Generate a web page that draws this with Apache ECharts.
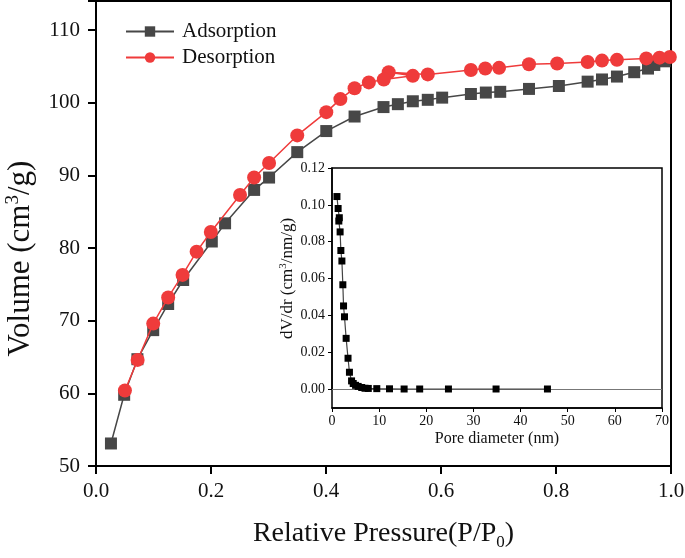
<!DOCTYPE html>
<html>
<head>
<meta charset="utf-8">
<script src="https://cdn.jsdelivr.net/npm/echarts@6/dist/echarts.min.js"></script>
<style>html,body{margin:0;padding:0;background:#fff}#c{width:685px;height:558px}</style>
</head>
<body>
<div id="c"></div>
<script>
// Adsorption branch (relative pressure P/P0, volume cm3/g)
const adsP = [0.026,0.049,0.072,0.0995,0.1255,0.1516,0.2014,0.2245,0.275,0.301,0.350,0.4005,0.4497,0.500,0.525,0.551,0.577,0.602,0.652,0.678,0.703,0.753,0.805,0.855,0.880,0.906,0.936,0.960,0.971,0.989];
const adsV = [53.1,59.8,64.7,68.7,72.3,75.6,80.9,83.4,88.0,89.7,93.2,96.1,98.1,99.4,99.8,100.2,100.4,100.7,101.2,101.4,101.5,101.9,102.3,102.9,103.2,103.6,104.2,104.7,105.2,105.7];
// Desorption branch (in drawn order)
const desP = [0.998,0.980,0.957,0.906,0.880,0.855,0.802,0.753,0.701,0.677,0.652,0.577,0.509,0.551,0.5005,0.4745,0.4497,0.425,0.4005,0.350,0.301,0.275,0.2505,0.1997,0.175,0.1505,0.1255,0.0995,0.0724,0.0503];
const desV = [106.3,106.2,106.1,105.9,105.8,105.6,105.4,105.3,104.8,104.7,104.5,103.9,104.2,103.7,103.2,102.8,102.0,100.5,98.7,95.5,91.7,89.7,87.3,82.2,79.5,76.3,73.2,69.6,64.6,60.4];
// Pore size distribution (inset)
const poreD = [1.05,1.3,1.55,1.45,1.72,1.88,2.1,2.3,2.45,2.65,3.0,3.4,3.7,4.15,4.5,5.0,5.55,6.3,7.0,7.7,9.5,12.2,15.3,18.6,24.7,34.8,45.7];
const poreV = [0.1045,0.098,0.093,0.0912,0.0853,0.0752,0.0695,0.0566,0.0451,0.0392,0.0275,0.0167,0.0091,0.0044,0.0030,0.0020,0.0014,0.0008,0.0004,0.0003,0.0002,0.0001,0,0,0,0,0];
// Tick settings
const mainXTicks = {min:0, max:1, interval:0.2};
const mainYTicks = {min:50, max:114, interval:10};
const insetXTicks = {min:0, max:70, interval:10};
const insetYTicks = {min:0, max:0.12, interval:0.02};

const zip = (a,b) => a.map((v,i)=>[v,b[i]]);
const serif = 'Liberation Serif';

const chart = echarts.init(document.getElementById('c'), null, {renderer:'canvas'});
chart.setOption({
  animation:false,
  backgroundColor:'#fff',
  textStyle:{fontFamily:serif},
  legend:{
    data:['Adsorption','Desorption'],
    orient:'vertical', left:120, top:16, itemGap:5,
    itemWidth:48, itemHeight:13,
    textStyle:{fontFamily:serif, fontSize:21, color:'#111', padding:[0,0,0,3]}
  },
  grid:[
    {left:96, right:14, top:1, bottom:92, show:true, borderColor:'#000', borderWidth:2, outerBoundsMode:'none', containLabel:false},
    {left:332, right:23, top:168, bottom:169, show:false, outerBoundsMode:'none', containLabel:false},
    {left:332, right:23, top:168, bottom:150, show:true, borderColor:'#000', borderWidth:1.5, backgroundColor:'#fff', outerBoundsMode:'none', containLabel:false}
  ],
  xAxis:[
    {gridIndex:0, type:'value', min:mainXTicks.min, max:mainXTicks.max, interval:mainXTicks.interval,
     axisLine:{lineStyle:{color:'#000', width:2}}, axisTick:{length:8, lineStyle:{width:2,color:'#000'}},
     splitLine:{show:false},
     axisLabel:{fontFamily:serif, fontSize:21, color:'#111', margin:15, formatter:v=>v.toFixed(1)},
     name:'Relative Pressure(P/P{sub|0})', nameLocation:'middle', nameGap:51,
     nameTextStyle:{fontFamily:serif, fontSize:28, color:'#111', rich:{sub:{fontFamily:serif, fontSize:17, color:'#111', padding:[17,0,0,0]}}}
    },
    {gridIndex:1, type:'value', min:insetXTicks.min, max:insetXTicks.max, interval:insetXTicks.interval,
     offset:19,
     axisLine:{onZero:false, lineStyle:{color:'#000', width:1.5}}, axisTick:{length:4, lineStyle:{color:'#000'}},
     splitLine:{show:false},
     axisLabel:{fontFamily:serif, fontSize:14, color:'#111', margin:6},
     name:'Pore diameter (nm)', nameLocation:'middle', nameGap:23,
     nameTextStyle:{fontFamily:serif, fontSize:16, color:'#111'}
    },
    {gridIndex:2, type:'value', min:0, max:1, show:false}
  ],
  yAxis:[
    {gridIndex:0, type:'value', min:mainYTicks.min, max:mainYTicks.max, interval:mainYTicks.interval,
     axisLine:{lineStyle:{color:'#000', width:2}}, axisTick:{length:8, lineStyle:{width:2,color:'#000'}},
     splitLine:{show:false},
     axisLabel:{fontFamily:serif, fontSize:21, color:'#111', margin:16, formatter:v=> (v%10===0? String(v):'')},
     name:'Volume (cm{sup|3}/g)', nameLocation:'middle', nameGap:58,
     nameTextStyle:{fontFamily:serif, fontSize:31, color:'#111', padding:[0,50,0,0],
       rich:{sup:{fontFamily:serif, fontSize:19, color:'#111', padding:[0,0,15,0]}}}
    },
    {gridIndex:1, type:'value', min:insetYTicks.min, max:insetYTicks.max, interval:insetYTicks.interval,
     axisLine:{onZero:false, lineStyle:{color:'#000', width:1.5}}, axisTick:{length:4, lineStyle:{color:'#000'}},
     splitLine:{show:false},
     axisLabel:{fontFamily:serif, fontSize:14, color:'#111', margin:7, formatter:v=>v.toFixed(2)},
     name:'dV/dr (cm{sup|3}/nm/g)', nameLocation:'middle', nameGap:35,
     nameTextStyle:{fontFamily:serif, fontSize:17, color:'#111', rich:{sup:{fontFamily:serif, fontSize:11, color:'#111', padding:[0,0,8,0]}}}
    },
    {gridIndex:2, type:'value', min:0, max:1, show:false}
  ],
  series:[
    {name:'Adsorption', type:'line', xAxisIndex:0, yAxisIndex:0, data:zip(adsP,adsV),
     symbol:'rect', symbolSize:12, itemStyle:{color:'#474747'}, lineStyle:{color:'#474747', width:1.5}, z:2},
    {name:'Desorption', type:'line', xAxisIndex:0, yAxisIndex:0, data:zip(desP,desV),
     symbol:'circle', symbolSize:14, itemStyle:{color:'#ef3b3b'}, lineStyle:{color:'#ef3b3b', width:1.5}, z:3},
    {name:'PSD', type:'line', xAxisIndex:1, yAxisIndex:1, data:zip(poreD,poreV), clip:false,
     symbol:'rect', symbolSize:7, itemStyle:{color:'#000'}, lineStyle:{color:'#444', width:1.2}, z:5,
     markLine:{silent:true, symbol:'none', label:{show:false}, lineStyle:{color:'#777', width:1.2, type:'solid'}, data:[{yAxis:0}]}
    }
  ]
});
</script>
</body>
</html>
